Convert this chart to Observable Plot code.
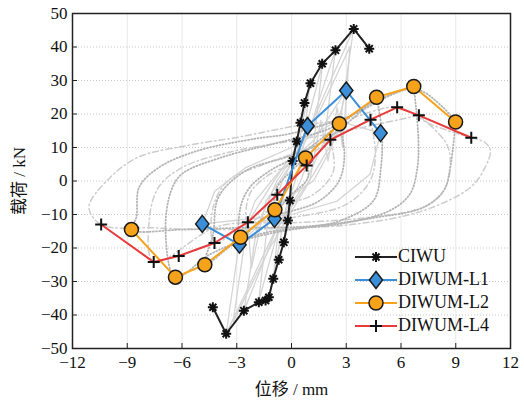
<!DOCTYPE html>
<html><head><meta charset="utf-8">
<script src="https://cdn.jsdelivr.net/npm/d3@7"></script>
<script src="https://cdn.jsdelivr.net/npm/@observablehq/plot@0.6"></script>
<style>
html,body{margin:0;padding:0;background:#fff;}
#wrap{position:relative;width:524px;height:405px;}
#wrap svg, #wrap svg g, #wrap svg text{font-family:"Liberation Serif","Times New Roman","Noto Sans CJK SC",serif !important;}
#legend{position:absolute;left:355px;top:245px;font-family:"Liberation Serif","Times New Roman",serif;font-size:18px;color:#111;}
.row{display:flex;align-items:center;height:23px;white-space:nowrap;}
.row svg{margin-right:1px;display:block;}
</style></head><body><div id="wrap"><div id="legend"></div></div>
<script>
// ---- skeleton series ----
const seriesNames = ["CIWU", "DIWUM-L1", "DIWUM-L2", "DIWUM-L4"];
const ciwuX = [-4.31,-3.58,-2.61,-1.79,-1.42,-1.24,-1.00,-0.70,-0.42,-0.20,-0.09,0.06,0.29,0.49,0.71,1.04,1.68,2.41,3.41,4.26];
const ciwuY = [-37.7,-45.6,-38.7,-36.2,-35.7,-34.7,-29.2,-23.5,-18.3,-11.8,-5.8,6.0,11.8,17.4,23.3,29.2,35.0,39.0,45.4,39.5];
const l1X = [-4.89,-2.85,-0.93,0.88,3.0,4.88];
const l1Y = [-12.8,-19.0,-11.3,16.4,27.0,14.3];
const l2X = [-8.77,-6.36,-4.75,-2.79,-0.91,0.77,2.62,4.66,6.70,8.99];
const l2Y = [-14.5,-28.7,-25.0,-16.8,-8.6,6.9,17.1,25.0,28.2,17.6];
const l4X = [-10.43,-7.55,-6.18,-4.22,-2.39,-0.78,0.83,2.13,4.33,5.79,6.98,9.85];
const l4Y = [-13.0,-24.2,-22.4,-18.5,-12.3,-4.1,4.6,12.3,18.3,22.0,19.6,12.9];

// ---- background hysteresis loops (grey) ----
const loopC1 = [[1.0,29],[0.6,8],[0.2,0],[-0.3,-8],[-1.0,-29],[-0.6,-8],[-0.2,0],[0.3,8],[1.0,29]];
const loopC2 = [[1.7,35],[1.2,10],[0.5,0],[-0.6,-12],[-1.8,-36],[-1.3,-12],[-0.5,0],[0.6,12],[1.7,35]];
const loopC3 = [[2.4,39],[1.8,12],[0.8,0],[-0.8,-14],[-2.6,-38.7],[-1.9,-14],[-0.8,0],[0.9,14],[2.4,39]];
const loopC4 = [[3.4,45.4],[2.6,15],[1.2,2],[-1.0,-16],[-3.58,-45.6],[-2.8,-16],[-1.2,-2],[1.0,16],[3.4,45.4]];
const loopC5 = [[3.2,40],[2.8,10],[2.5,22],[2.0,6],[1.6,18],[1.0,0],[-1.2,-20],[-3.2,-42],[-2.4,-12],[-2.2,-26],[-1.4,-6],[0.6,10],[3.2,40]];
const loopL1a = [[3.0,27],[2.2,10],[1.2,0],[-0.5,-6],[-2.85,-19],[-2.0,-6],[-0.8,2],[1.2,12],[3.0,27]];
const loopL1b = [[4.88,14.3],[4.3,2],[2.5,-6],[0,-10],[-4.89,-12.8],[-4.2,-3],[-2.5,4],[0,10],[2.5,18],[4.88,14.3]];
const loopL2a = [[4.66,25],[4.95,15],[4.9,4],[4.5,-5.8],[2.7,-11.8],[0.86,-13.8],[-1.5,-15.5],[-3.2,-19],[-4.75,-25],[-4.3,-16],[-4.0,-4.8],[-2.5,3.1],[-0.3,7.1],[1.5,11],[3.0,17],[4.66,25]];
const loopL2b = [[6.7,28.2],[6.95,13],[6.9,4.1],[6.5,-3.8],[5.4,-8.8],[2.7,-12.8],[0,-14.5],[-2.5,-17.5],[-4.5,-22],[-6.36,-28.7],[-6.9,-14.8],[-6.6,-3],[-6.0,2.1],[-3.8,7.1],[-1.0,11.1],[2,15.5],[4.66,24],[6.7,28.2]];
const loopL2c = [[8.99,17.6],[8.7,4.1],[8.35,-2.8],[7.25,-7.8],[4.5,-11],[1,-13.5],[-3,-14],[-6,-14.5],[-8.77,-14.5],[-8.5,-10.8],[-8.35,-1.9],[-7.25,4.1],[-5.1,9.1],[-2.0,12.6],[-0.1,14.1],[3,19],[6.7,27.5],[8.3,22],[8.99,17.6]];
const loopL2d = [[2.62,17],[2.9,8],[2.6,0],[1.5,-6],[0,-9],[-1.5,-11],[-2.79,-16.8],[-2.8,-8],[-2.3,-2],[-1.2,3],[0.5,8],[2.62,17]];
const loopL2e = [[0.77,6.9],[0.9,1],[0,-4],[-0.91,-8.6],[-0.8,-2],[0,3],[0.77,6.9]];
const loopL4a = [[9.85,12.9],[10.6,11.5],[10.9,9.1],[10.6,4],[9.8,-1.9],[7.25,-8.8],[3.6,-12.8],[0,-14],[-4,-14.5],[-7.5,-14],[-10.43,-13],[-11.1,-7.8],[-10.0,0.7],[-8.4,7.1],[-5.6,10.7],[-2.9,13.1],[-0.1,16.1],[3,18.5],[5.79,22],[7.6,17],[9.85,12.9]];
const loopL4b = [[6.98,19.6],[8.5,11.1],[8.7,4],[8.35,-2.8],[7.25,-7.8],[4,-11],[0,-12.5],[-4,-13.5],[-7.55,-24.2],[-7.8,-12],[-7.3,-2],[-6,4],[-3.5,8.5],[0,12],[3,15],[6.98,19.6]];
const loopL4c = [[4.33,18.3],[4.6,8],[4.3,0],[3,-7],[0,-11],[-2.5,-13],[-4.22,-18.5],[-4.3,-8],[-3.5,0],[-1.5,5],[1,10],[4.33,18.3]];
const loopL4d = [[2.13,12.3],[2.3,3],[1.2,-4],[-1,-8],[-2.39,-12.3],[-2.3,-4],[-1.2,2],[0.5,6],[2.13,12.3]];

// ---- axes ----
const xTicks = [-12,-9,-6,-3,0,3,6,9,12];
const yTicks = [-50,-40,-30,-20,-10,0,10,20,30,40,50];
const xLabel = "位移 / mm";
const yLabel = "载荷 / kN";

const colors = {CIWU:"#222222", "DIWUM-L1":"#3b8fd9", "DIWUM-L2":"#f7a21b", "DIWUM-L4":"#e83a3a"};
const serif = '"Liberation Serif","Times New Roman","Noto Sans CJK SC",serif';

// custom symbols
const star8 = {draw(ctx, size){ const r = Math.sqrt(size/Math.PI); for (let k=0;k<4;k++){ const a=k*Math.PI/4; ctx.moveTo(-r*Math.cos(a),-r*Math.sin(a)); ctx.lineTo(r*Math.cos(a),r*Math.sin(a)); } }};
const diamondTall = {draw(ctx, size){ const r = Math.sqrt(size/Math.PI); const w=r*0.78; ctx.moveTo(0,-r); ctx.lineTo(w,0); ctx.lineTo(0,r); ctx.lineTo(-w,0); ctx.closePath(); }};
const plusLine = {draw(ctx, size){ const r = Math.sqrt(size/Math.PI); ctx.moveTo(-r,0); ctx.lineTo(r,0); ctx.moveTo(0,-r); ctx.lineTo(0,r); }};

const toRows = (xs, ys) => xs.map((x,i)=>({x, y: ys[i]}));
const loopRows = (loops) => loops.flatMap(([id, pts]) => pts.map(([x,y]) => ({id, x, y})));

const solidLoops = loopRows([["c1",loopC1],["c2",loopC2],["c3",loopC3],["c4",loopC4],["c5",loopC5],["l1a",loopL1a],["l1b",loopL1b]]);
const dottedLoops = loopRows([["a",loopL2a],["b",loopL2b],["c",loopL2c],["d",loopL2d],["e",loopL2e]]);
const dashLoops = loopRows([["a",loopL4a],["b",loopL4b],["c",loopL4c],["d",loopL4d]]);

const ciwu = toRows(ciwuX, ciwuY), l1 = toRows(l1X, l1Y), l2 = toRows(l2X, l2Y), l4 = toRows(l4X, l4Y);

const chart = Plot.plot({
  width: 524, height: 405,
  marginLeft: 72, marginRight: 14, marginTop: 13, marginBottom: 57,
  style: {fontFamily: serif, fontSize: "17px", color: "#111", background: "#fff"},
  x: {domain: [-12, 12]},
  y: {domain: [-50, 50]},
  marks: [
    Plot.gridX(xTicks, {stroke: "#e8e8e8", strokeOpacity: 1, strokeWidth: 1}),
    Plot.gridY(yTicks, {stroke: "#c8c8c8", strokeOpacity: 1, strokeWidth: 1.2, strokeDasharray: "1,2"}),
    Plot.line(dashLoops, {x: "x", y: "y", z: "id", curve: "catmull-rom", stroke: "#cdcdcd", strokeWidth: 1.5, strokeDasharray: "6,3,1.5,3"}),
    Plot.line(solidLoops, {x: "x", y: "y", z: "id", stroke: "#d4d4d4", strokeWidth: 1.3}),
    Plot.line(dottedLoops, {x: "x", y: "y", z: "id", curve: "catmull-rom", stroke: "#b4b4b4", strokeWidth: 1.8, strokeDasharray: "1,2.2"}),
    Plot.line(ciwu, {x: "x", y: "y", stroke: colors.CIWU, strokeWidth: 2}),
    Plot.dot(ciwu, {x: "x", y: "y", symbol: star8, r: 5, stroke: "#111", strokeWidth: 2, fill: "none"}),
    Plot.line(l1, {x: "x", y: "y", stroke: colors["DIWUM-L1"], strokeWidth: 2}),
    Plot.dot(l1, {x: "x", y: "y", symbol: diamondTall, r: 8.5, fill: colors["DIWUM-L1"], stroke: "#1a1a1a", strokeWidth: 1.5}),
    Plot.line(l2, {x: "x", y: "y", stroke: colors["DIWUM-L2"], strokeWidth: 2}),
    Plot.dot(l2, {x: "x", y: "y", r: 7, fill: colors["DIWUM-L2"], stroke: "#1a1a1a", strokeWidth: 1.5}),
    Plot.line(l4, {x: "x", y: "y", stroke: colors["DIWUM-L4"], strokeWidth: 2}),
    Plot.dot(l4, {x: "x", y: "y", symbol: plusLine, r: 6, stroke: "#111", strokeWidth: 2}),
    Plot.frame({stroke: "#222", strokeWidth: 1.5}),
    Plot.axisX({ticks: xTicks, tickSize: -5, tickPadding: 12, stroke: "#222", fontSize: 17, fontFamily: serif, label: xLabel, labelAnchor: "center", labelOffset: 46, labelArrow: "none"}),
    Plot.axisY({ticks: yTicks, tickSize: -5, tickPadding: 10, stroke: "#222", fontSize: 17, fontFamily: serif, label: yLabel, labelAnchor: "center", labelOffset: 60, labelArrow: "none"})
  ]
});
document.getElementById("wrap").prepend(chart);

// ---- legend (HTML overlay) ----
const legendSymbols = {
  "CIWU": (c) => `<g stroke="#111" stroke-width="2">${[0,1,2,3].map(k=>{const a=k*Math.PI/4;return `<line x1="${21-5*Math.cos(a)}" y1="${11-5*Math.sin(a)}" x2="${21+5*Math.cos(a)}" y2="${11+5*Math.sin(a)}"/>`}).join("")}</g>`,
  "DIWUM-L1": (c) => `<path d="M21,2.5 L27.6,11 L21,19.5 L14.4,11 Z" fill="${c}" stroke="#1a1a1a" stroke-width="1.5"/>`,
  "DIWUM-L2": (c) => `<circle cx="21" cy="11" r="7" fill="${c}" stroke="#1a1a1a" stroke-width="1.5"/>`,
  "DIWUM-L4": (c) => `<g stroke="#111" stroke-width="2"><line x1="15" y1="11" x2="27" y2="11"/><line x1="21" y1="5" x2="21" y2="17"/></g>`
};
const legend = document.getElementById("legend");
legend.innerHTML = seriesNames.map(n => `<div class="row"><svg width="42" height="22" viewBox="0 0 42 22"><line x1="0" y1="11" x2="42" y2="11" stroke="${colors[n]}" stroke-width="2"/>${legendSymbols[n](colors[n])}</svg><span>${n}</span></div>`).join("");
</script></body></html>
